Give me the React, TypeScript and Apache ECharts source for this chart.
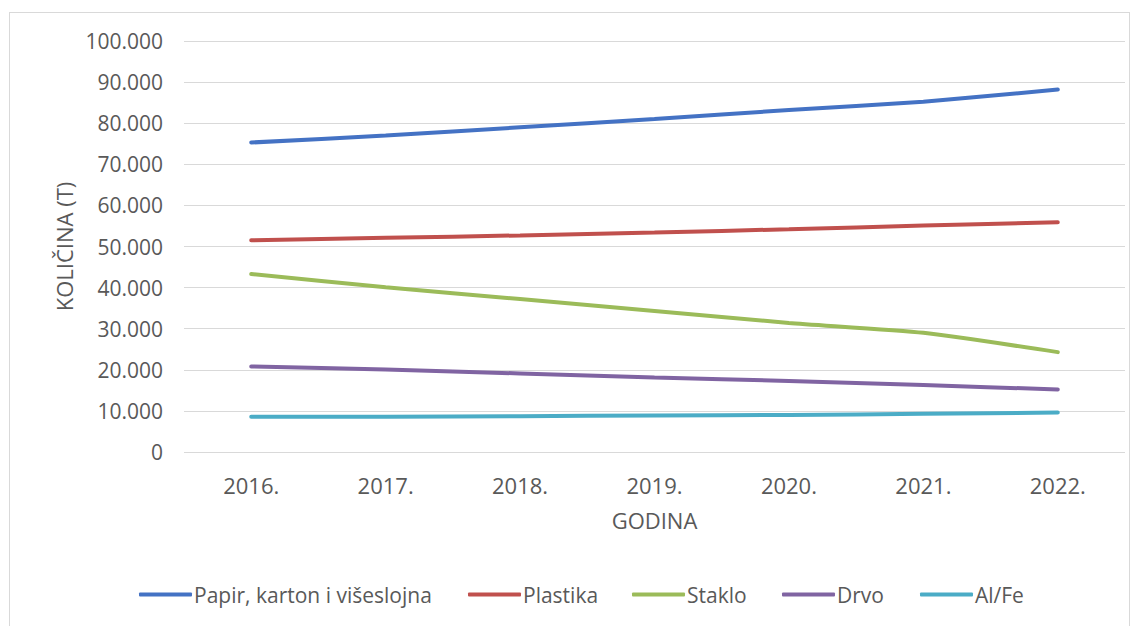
import React, { useEffect, useRef } from "react";
import * as echarts from "echarts";

const years = ["2016.", "2017.", "2018.", "2019.", "2020.", "2021.", "2022."];
const papir = [75300, 77000, 79000, 81000, 83200, 85200, 88200];
const plastika = [51500, 52100, 52700, 53400, 54200, 55100, 55900];
const staklo = [43300, 40100, 37200, 34300, 31400, 29000, 24300];
const drvo = [20800, 20100, 19100, 18100, 17300, 16300, 15200];
const alfe = [8600, 8600, 8700, 8900, 9000, 9300, 9600];
const yTicks = [0, 10000, 20000, 30000, 40000, 50000, 60000, 70000, 80000, 90000, 100000];

const seriesNames = ["Papir, karton i višeslojna", "Plastika", "Staklo", "Drvo", "Al/Fe"];
const seriesData = [papir, plastika, staklo, drvo, alfe];
const colors = ["#4472C4", "#C0504D", "#9BBB59", "#8064A2", "#4BACC6"];
const legendLefts = [139, 468, 632, 782, 920];

const font = "'Open Sans', sans-serif";
const textColor = "#595959";

const fmt = (v: number) => {
  if (!yTicks.includes(v)) return "";
  if (v === 0) return "0";
  const s = String(v);
  return s.slice(0, s.length - 3) + "." + s.slice(s.length - 3);
};

export default function App() {
  const ref = useRef<HTMLDivElement>(null);
  useEffect(() => {
    if (!ref.current) return;
    const chart = echarts.init(ref.current, undefined, { renderer: "svg" });
    chart.setOption({
      animation: false,
      backgroundColor: "transparent",
      textStyle: { fontFamily: font },
      color: colors,
      grid: { left: 184, right: 16, top: 41, bottom: 174 },
      legend: seriesNames.map((n, i) => ({
        top: 584,
        left: legendLefts[i],
        padding: 0,
        itemWidth: 53,
        itemHeight: 4,
        icon: "roundRect",
        textStyle: { fontSize: 21, color: textColor, fontFamily: font, padding: [0, 0, 0, -3] },
        data: [n],
      })),
      xAxis: {
        type: "category",
        data: years,
        boundaryGap: true,
        name: "GODINA",
        nameLocation: "middle",
        nameGap: 57,
        nameTextStyle: { fontSize: 22, color: textColor, fontFamily: font },
        axisLine: { show: false },
        axisTick: { show: false },
        axisLabel: { fontSize: 22, color: textColor, margin: 22, fontFamily: font },
      },
      yAxis: {
        type: "value",
        min: 0,
        max: 100000,
        interval: 10000,
        name: "KOLIČINA (T)",
        nameLocation: "middle",
        nameGap: 108,
        nameRotate: 90,
        nameTextStyle: { fontSize: 22, color: textColor, fontFamily: font },
        axisLine: { show: false },
        axisTick: { show: false },
        axisLabel: {
          fontSize: 21,
          color: textColor,
          margin: 21,
          fontFamily: font,
          formatter: fmt,
        },
        splitLine: { lineStyle: { color: "#d9d9d9", width: 1 } },
      },
      series: seriesNames.map((n, i) => ({
        name: n,
        type: "line",
        data: seriesData[i],
        showSymbol: false,
        symbol: "none",
        smooth: 0.2,
        lineStyle: { width: 4, color: colors[i], cap: "round" },
        itemStyle: { color: colors[i] },
      })),
    });
    return () => chart.dispose();
  }, []);
  return (
    <div style={{ position: "fixed", left: 0, top: 0, width: 1141, height: 626, background: "#fff" }}>
      <div
        style={{
          position: "absolute",
          left: 9,
          top: 12,
          width: 1121,
          height: 630,
          border: "1px solid #d9d9d9",
          boxSizing: "border-box",
        }}
      />
      <div ref={ref} style={{ position: "absolute", left: 0, top: 0, width: 1141, height: 626 }} />
    </div>
  );
}
